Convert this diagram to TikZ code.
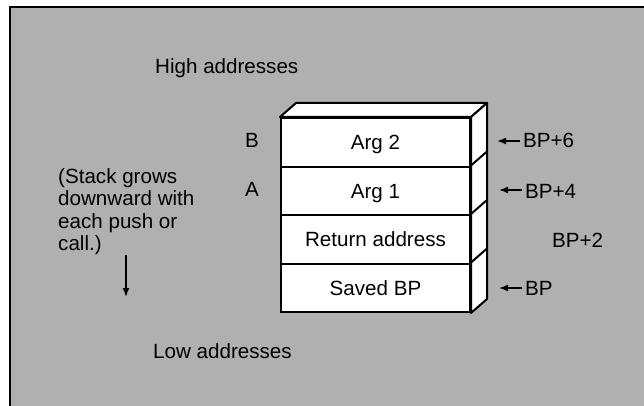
\documentclass[tikz,border=0pt]{standalone}
\usepackage{fontspec}
\setmainfont{Liberation Sans}
\usetikzlibrary{arrows.meta,calc}
\definecolor{panel}{gray}{0.69}
\begin{document}
\begin{tikzpicture}[x=1pt,y=-1pt,
  txt/.style={font=\fontsize{20.6}{21}\selectfont, inner sep=0pt},
  slot/.style={txt, draw, line width=2pt, fill=white,
    minimum width=189pt, minimum height=48.5pt,
    text height=15pt, text depth=0pt},
  face/.style={draw, line width=2pt, fill=white, line join=round},
  ptr/.style={line width=1.6pt, -{Latex[length=9pt,width=7pt]}}]
\useasboundingbox (0,0) rectangle (644,406);
% shaded panel with its left and top rule
\fill[panel] (10,7) rectangle (650,412);
\draw[line width=2.5pt] (10,412) -- (10,7) -- (650,7);

% the stack frame, front face
\node[slot] (arg2)  at (375.5,142.25) {Arg 2};
\node[slot] (arg1)  at (375.5,190.75) {Arg 1};
\node[slot] (ret)   at (375.5,239.25) {Return address};
\node[slot] (saved) at (375.5,287.75) {Saved BP};

% top and side faces
\draw[face] (arg2.north west) -- ++(16,-14) -- ($(arg2.north east)+(16,-14)$)
  -- (arg2.north east) -- cycle;
\draw[face] (arg2.north east) -- ++(16,-14) -- ($(saved.south east)+(16,-14)$)
  -- (saved.south east) -- cycle;
\draw[line width=2pt] (arg1.north east) -- ++(16,-14);
\draw[line width=2pt] (ret.north east) -- ++(16,-14);
\draw[line width=2pt] (saved.north east) -- ++(16,-14);

% labels around the frame
\node[txt, anchor=base west] (hi) at (155,73.5) {High addresses};
\node[txt, anchor=base west] (lo) at (153,358) {Low addresses};
\node[txt, anchor=base west] (nb) at (245,148) {B};
\node[txt, anchor=base west] (na) at (245,196) {A};

\node[txt, font=\fontsize{20.6}{22.5}\selectfont, anchor=north west, align=left]
  (note) at (58,168) {(Stack grows\\downward with\\each push or\\call.)};
\coordinate (g1) at (126,255);
\coordinate (g2) at (126,297);
\draw[ptr] (g1) -- (g2);

% base pointer offsets
\node[txt, anchor=base west] (bp6) at (523,148) {BP+6};
\node[txt, anchor=base west] (bp4) at (525,198) {BP+4};
\node[txt, anchor=base west] (bp2) at (552,247) {BP+2};
\node[txt, anchor=base west] (bp0) at (525,295) {BP};
\coordinate (t6) at (497,141);
\coordinate (t4) at (499,190);
\coordinate (t0) at (499,288);
\draw[ptr] ([xshift=-3pt]bp6.west |- t6) -- (t6);
\draw[ptr] ([xshift=-3pt]bp4.west |- t4) -- (t4);
\draw[ptr] ([xshift=-3pt]bp0.west |- t0) -- (t0);
\end{tikzpicture}
\end{document}
